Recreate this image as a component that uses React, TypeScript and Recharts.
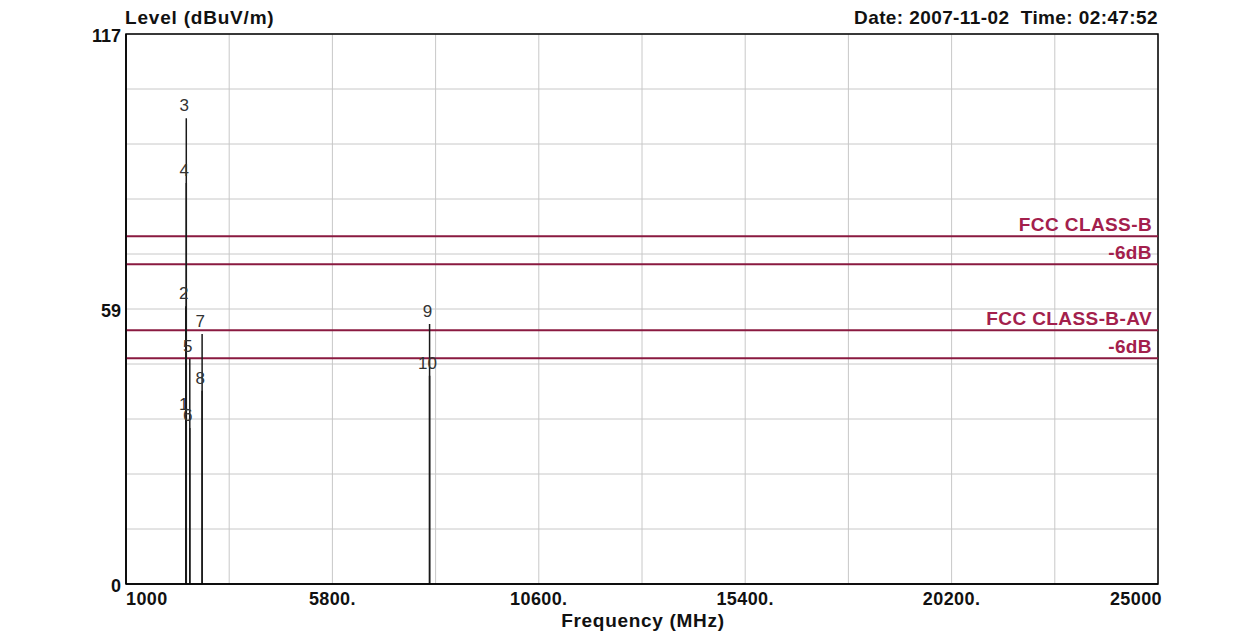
import {
  ComposedChart,
  XAxis,
  YAxis,
  CartesianGrid,
  ReferenceLine,
  ReferenceArea,
  Scatter,
} from "recharts";

const FREQ_TICKS = [1000, 3400, 5800, 8200, 10600, 13000, 15400, 17800, 20200, 22600, 25000];
const FREQ_LABELS = ["1000", "", "5800.", "", "10600.", "", "15400.", "", "20200.", "", "25000"];

const LEVEL_TICKS = [0, 11.7, 23.4, 35.1, 46.8, 58.5, 70.2, 81.9, 93.6, 105.3, 117];
const LEVEL_LABELS = ["0", "", "", "", "", "59", "", "", "", "", "117"];

// marker no / frequency (MHz) / level (dBuV/m)
const MARKER_NO = [1, 2, 3, 4, 5, 6, 7, 8, 9, 10];
const MARKER_FREQ = [2390, 2390, 2402, 2402, 2483.5, 2483.5, 2770, 2770, 8060, 8060];
const MARKER_LEVEL = [35.5, 59.1, 99.1, 85.3, 47.9, 33.2, 53.2, 41.1, 55.3, 44.3];

const LIMIT_NAMES = ["FCC CLASS-B", "-6dB", "FCC CLASS-B-AV", "-6dB"];
const LIMIT_LEVELS = [74, 68, 54, 48];

const FONT = "'Liberation Sans', Arial, sans-serif";
const LIMIT_COLOR = "#8a1a40";
const LIMIT_TEXT = "#a3204c";

const markers = MARKER_NO.map((no, i) => ({ no, f: MARKER_FREQ[i], level: MARKER_LEVEL[i] }));

function FreqTick(props: any) {
  const { x, y, index } = props;
  const label = FREQ_LABELS[index];
  if (!label) return null;
  let anchor: "start" | "middle" | "end" = "middle";
  let dx = 0;
  if (index === 0) anchor = "start";
  if (index === FREQ_LABELS.length - 1) {
    anchor = "end";
    dx = 4;
  }
  return (
    <text x={x + dx} y={y} dy={13} textAnchor={anchor} fontFamily={FONT} fontWeight="bold" fontSize={18} letterSpacing={0.4} fill="#111">
      {label}
    </text>
  );
}

function LevelTick(props: any) {
  const { x, y, index } = props;
  const label = LEVEL_LABELS[index];
  if (!label) return null;
  return (
    <text x={x} y={y} dy={8} textAnchor="end" fontFamily={FONT} fontWeight="bold" fontSize={18} fill="#111">
      {label}
    </text>
  );
}

function LimitLabel(props: any) {
  const { viewBox, value } = props;
  return (
    <text
      x={viewBox.x + viewBox.width - 6}
      y={viewBox.y - 5}
      textAnchor="end"
      fontFamily={FONT}
      fontWeight="bold"
      fontSize={19}
      letterSpacing={0.4}
      fill={LIMIT_TEXT}
    >
      {value}
    </text>
  );
}

function MarkerLabel(props: any) {
  const { cx, cy, payload } = props;
  return (
    <text x={cx - 2} y={cy - 7} textAnchor="middle" fontFamily={FONT} fontSize={17} fill="#333">
      {payload.no}
    </text>
  );
}

export default function App() {
  const title = { position: "absolute" as const, fontWeight: "bold", fontSize: 19, color: "#111", lineHeight: "22px", whiteSpace: "pre" as const };
  return (
    <div style={{ position: "absolute", left: 0, top: 0, width: 1234, height: 637, background: "#fff", fontFamily: FONT }}>
      <div style={{ ...title, left: 125, top: 7, letterSpacing: 0.8 }}>Level (dBuV/m)</div>
      <div style={{ ...title, right: 1234 - 1158, top: 7, letterSpacing: 0.4 }}>
        {"Date: 2007-11-02  Time: 02:47:52"}
      </div>
      <div style={{ ...title, left: 543, width: 200, top: 610, textAlign: "center", letterSpacing: 0.7 }}>
        Frequency (MHz)
      </div>
      <ComposedChart width={1234} height={637} margin={{ top: 34, right: 76, bottom: 0, left: 0 }}>
        <CartesianGrid stroke="#c8c8c8" />
        <XAxis
          type="number"
          dataKey="f"
          domain={[1000, 25000]}
          ticks={FREQ_TICKS}
          interval={0}
          allowDataOverflow
          height={53}
          axisLine={{ stroke: "#000", strokeWidth: 1.5 }}
          tickLine={false}
          tick={<FreqTick />}
        />
        <YAxis
          type="number"
          dataKey="level"
          domain={[0, 117]}
          ticks={LEVEL_TICKS}
          interval={0}
          allowDataOverflow
          width={126}
          axisLine={{ stroke: "#000", strokeWidth: 1.5 }}
          tickLine={false}
          tickSize={3}
          tick={<LevelTick />}
        />
        <ReferenceArea x1={1000} x2={25000} y1={0} y2={117} fill="none" stroke="#000" strokeWidth={1.5} />
        {LIMIT_LEVELS.map((lv, i) => (
          <ReferenceLine
            key={"lim" + i}
            y={lv}
            stroke={LIMIT_COLOR}
            strokeWidth={2}
            label={<LimitLabel value={LIMIT_NAMES[i]} />}
          />
        ))}
        {markers.map((m) => (
          <ReferenceLine
            key={"mk" + m.no}
            segment={[{ x: m.f, y: 0 }, { x: m.f, y: m.level }]}
            stroke="#1a1a1a"
            strokeWidth={1.5}
          />
        ))}
        <Scatter data={markers} dataKey="level" shape={<MarkerLabel />} isAnimationActive={false} />
      </ComposedChart>
    </div>
  );
}
